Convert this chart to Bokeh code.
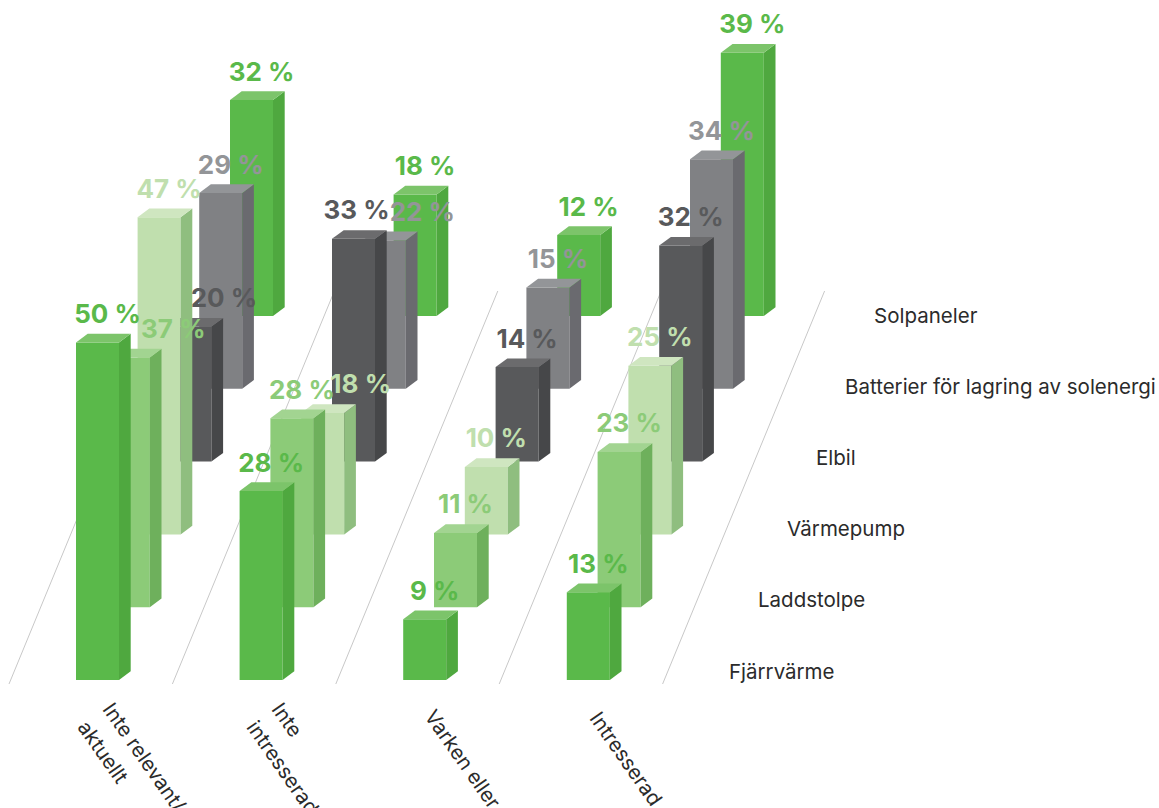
from bokeh.plotting import figure
from bokeh.core.properties import value
from bokeh.embed import file_html
from bokeh.resources import INLINE
import math

# data ------------------------------------------------------------------
rows = ["Fjärrvärme", "Laddstolpe", "Värmepump", "Elbil",
        "Batterier för lagring av solenergi", "Solpaneler"]
fjarrvarme = [50, 28, 9, 13]
laddstolpe = [37, 28, 11, 23]
varmepump = [47, 18, 10, 25]
elbil = [20, 33, 14, 32]
batterier = [29, 22, 15, 34]
solpaneler = [32, 18, 12, 39]
series = [fjarrvarme, laddstolpe, varmepump, elbil, batterier, solpaneler]
cat_lines = [["Inte relevant/", "aktuellt"], ["Inte", "intresserad"],
             ["Varken eller"], ["Intresserad"]]

# styles: front, side, top, label
styles = [
    ("#5ab94a", "#4fa83f", "#7cc46a", "#5ab94a"),
    ("#8ccb78", "#6eb05c", "#a2d491", "#8ccb78"),
    ("#c0dfae", "#8fbe7f", "#cfe6c0", "#c0dfae"),
    ("#58595b", "#464749", "#6b6b6d", "#58595b"),
    ("#808184", "#6a6a6f", "#939598", "#939598"),
    ("#5ab94a", "#4fa83f", "#7cc46a", "#5ab94a"),
]

# layout ----------------------------------------------------------------
X0, COL, ROW_DX = 76.0, 163.6, 30.8
Y0, ROW_DY = 680.0, 72.8
K, W, SX, SY = 6.75, 43.0, 11.7, 8.7
# hand-placed value labels in the reference: (row, col) -> x shift
nudge = {(1, 0): 35, (3, 0): 24, (2, 1): 28, (3, 1): -7, (4, 1): 28}

p = figure(width=1159, height=808, x_range=(0.5, 1159.5), y_range=(808.5, 0.5),
           output_backend="svg", toolbar_location=None, min_border=0,
           outline_line_color=None, background_fill_color="white")
p.axis.visible = False
p.grid.visible = False

# floor lines
gx = [9 + 163.4 * i for i in range(5)]
p.segment(x0=gx, y0=[684] * 5, x1=[g + 162 for g in gx], y1=[291] * 5,
          line_color="#c8c8c8", line_width=1)

# bars, back row first
for r in range(5, -1, -1):
    xs_f, ys_f, xs_s, ys_s, xs_t, ys_t = [], [], [], [], [], []
    lx, ly, lt = [], [], []
    base = Y0 - r * ROW_DY
    for c, v in enumerate(series[r]):
        x = X0 + c * COL + r * ROW_DX
        top = base - v * K
        xs_f.append([x, x + W, x + W, x]); ys_f.append([base, base, top, top])
        xs_s.append([x + W, x + W + SX, x + W + SX, x + W])
        ys_s.append([base, base - SY, top - SY, top])
        xs_t.append([x, x + W, x + W + SX, x + SX])
        ys_t.append([top, top, top - SY, top - SY])
        lx.append(x + 31.5 + nudge.get((r, c), 0)); ly.append(top - 29); lt.append(f"{v} %")
    front, side, topc, lab = styles[r]
    p.patches(xs_f, ys_f, fill_color=front, line_color=None)
    p.patches(xs_s, ys_s, fill_color=side, line_color=None)
    p.patches(xs_t, ys_t, fill_color=topc, line_color=None)
    p.text(lx, ly, text=lt, text_color=lab, text_font=value("Inter"),
           text_font_style="bold", text_font_size="26px",
           text_align="center", text_baseline="middle")

# row labels
p.text([729 + i * 29 for i in range(6)], [671 - i * 71.2 for i in range(6)],
       text=rows, text_color="#2b2b2b", text_font=value("Inter"),
       text_font_size="20.5px", text_align="left", text_baseline="middle")

# category labels
starts = [(108, 705), (277, 705), (430, 712), (595, 714)]
ang = -55 * math.pi / 180
for (sx, sy), lines in zip(starts, cat_lines):
    for i, t in enumerate(lines):
        lx = sx - i * 25
        ly = sy + i * 18
        p.text([lx], [ly], text=[t], angle=ang, text_color="#2b2b2b",
               text_font=value("Inter"), text_font_size="20.5px",
               text_align="left", text_baseline="middle")

open("out.html", "w").write(file_html(p, INLINE))
